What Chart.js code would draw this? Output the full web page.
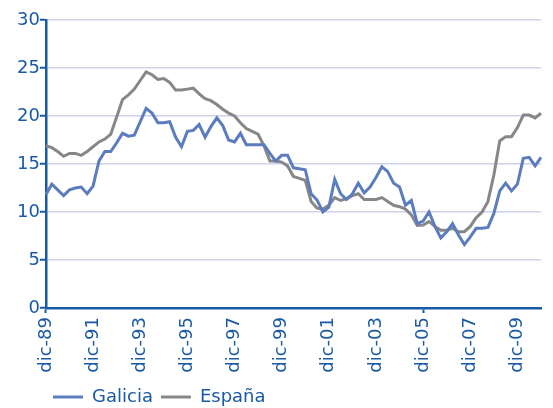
<!DOCTYPE html>
<html>
<head>
<meta charset="utf-8">
<script src="https://cdn.jsdelivr.net/npm/chart.js@4/dist/chart.umd.min.js"></script>
<style>
  html, body { margin: 0; padding: 0; background: #fff; }
  #wrap { width: 553px; height: 408px; }
</style>
</head>
<body>
<div id="wrap"><canvas id="paroChart"></canvas></div>
<script>
// quarterly categories, dic-89 .. dic-10
const quarterMonths = ['mar', 'jun', 'sep', 'dic'];
const categories = ['dic-89'];
for (let y = 1990; y <= 2010; y++) {
  quarterMonths.forEach(m => categories.push(m + '-' + String(y).slice(2)));
}

const galicia = [
  11.8, 12.9, 12.3, 11.7, 12.3, 12.5, 12.6, 11.9, 12.7, 15.3,
  16.3, 16.3, 17.2, 18.2, 17.9, 18.0, 19.4, 20.8, 20.3, 19.3,
  19.3, 19.4, 17.8, 16.8, 18.4, 18.5, 19.1, 17.8, 18.9, 19.8,
  19.0, 17.5, 17.3, 18.2, 17.0, 17.0, 17.0, 17.0, 16.1, 15.3,
  15.9, 15.9, 14.6, 14.5, 14.4, 11.9, 11.25, 10.0, 10.5, 13.4,
  11.9, 11.3, 11.9, 13.0, 12.0, 12.6, 13.6, 14.7, 14.2, 13.0,
  12.6, 10.7, 11.2, 8.8, 9.05, 10.0, 8.5, 7.3, 7.95, 8.8,
  7.6, 6.6, 7.4, 8.3, 8.3, 8.4, 9.85, 12.2, 13.0, 12.2,
  12.9, 15.6, 15.7, 14.8, 15.7
];

const espana = [
  16.9, 16.7, 16.3, 15.8, 16.1, 16.1, 15.9, 16.3, 16.8, 17.3,
  17.6, 18.1, 19.9, 21.7, 22.2, 22.8, 23.7, 24.6, 24.3, 23.8,
  23.9, 23.5, 22.7, 22.7, 22.8, 22.9, 22.3, 21.8, 21.6, 21.2,
  20.7, 20.3, 20.0, 19.3, 18.7, 18.4, 18.1, 16.9, 15.3, 15.3,
  15.2, 14.8, 13.7, 13.5, 13.3, 11.1, 10.4, 10.3, 10.7, 11.5,
  11.2, 11.4, 11.7, 11.9, 11.3, 11.3, 11.3, 11.5, 11.1, 10.7,
  10.55, 10.3, 9.7, 8.6, 8.65, 9.0, 8.5, 8.1, 8.1, 8.3,
  7.95, 7.95, 8.5, 9.4, 10.0, 11.1, 13.85, 17.4, 17.85, 17.85,
  18.8, 20.1, 20.1, 19.8, 20.3
];

const yTicks = [0, 5, 10, 15, 20, 25, 30];

const AXIS = '#175aa6';
const TEXT = '#1a5aa5';
const GRID = '#cdd2ea';
const FONT = 'DejaVu Sans';

// move the legend to the left, like the original
const legendShift = {
  id: 'legendShift',
  afterLayout(chart) {
    chart.legend.left += 28;
    chart.legend.top += 8;
  }
};

const ctx = document.getElementById('paroChart').getContext('2d');
new Chart(ctx, {
  type: 'line',
  data: {
    labels: categories,
    datasets: [
      {
        label: 'Galicia',
        data: galicia,
        borderColor: '#5b7dc0',
        backgroundColor: '#5b7dc0',
        borderWidth: 3,
        pointRadius: 0,
        tension: 0
      },
      {
        label: 'España',
        data: espana,
        borderColor: '#878787',
        backgroundColor: '#878787',
        borderWidth: 3,
        pointRadius: 0,
        tension: 0
      }
    ]
  },
  options: {
    responsive: true,
    maintainAspectRatio: false,
    animation: false,
    layout: { padding: { left: 17, top: 20, right: 12, bottom: 0 } },
    plugins: {
      tooltip: { enabled: false },
      legend: {
        position: 'bottom',
        align: 'start',
        labels: {
          usePointStyle: true,
          pointStyle: 'line',
          pointStyleWidth: 30,
          padding: 8,
          color: TEXT,
          font: { family: FONT, size: 18 }
        }
      }
    },
    scales: {
      x: {
        offset: false,
        afterFit: scale => { scale.height = 64; },
        border: { display: true, color: AXIS, width: 2.5 },
        grid: {
          drawOnChartArea: false,
          drawTicks: true,
          tickLength: 5,
          tickWidth: 2,
          tickColor: c => (c.index % 8 === 0 ? AXIS : 'rgba(0,0,0,0)')
        },
        ticks: {
          autoSkip: false,
          maxRotation: 90,
          minRotation: 90,
          padding: 4,
          color: TEXT,
          font: { family: FONT, size: 18 },
          callback: function (value, index) {
            return index % 8 === 0 ? categories[index] : null;
          }
        }
      },
      y: {
        min: 0,
        max: 30,
        afterBuildTicks: scale => {
          scale.ticks = yTicks.map(v => ({ value: v }));
        },
        border: { display: true, color: AXIS, width: 2.5 },
        grid: {
          color: GRID,
          lineWidth: 1.5,
          tickColor: AXIS,
          tickLength: 6,
          tickWidth: 2
        },
        ticks: {
          padding: 0,
          color: TEXT,
          font: { family: FONT, size: 18 }
        }
      }
    }
  },
  plugins: [legendShift]
});
</script>
</body>
</html>
